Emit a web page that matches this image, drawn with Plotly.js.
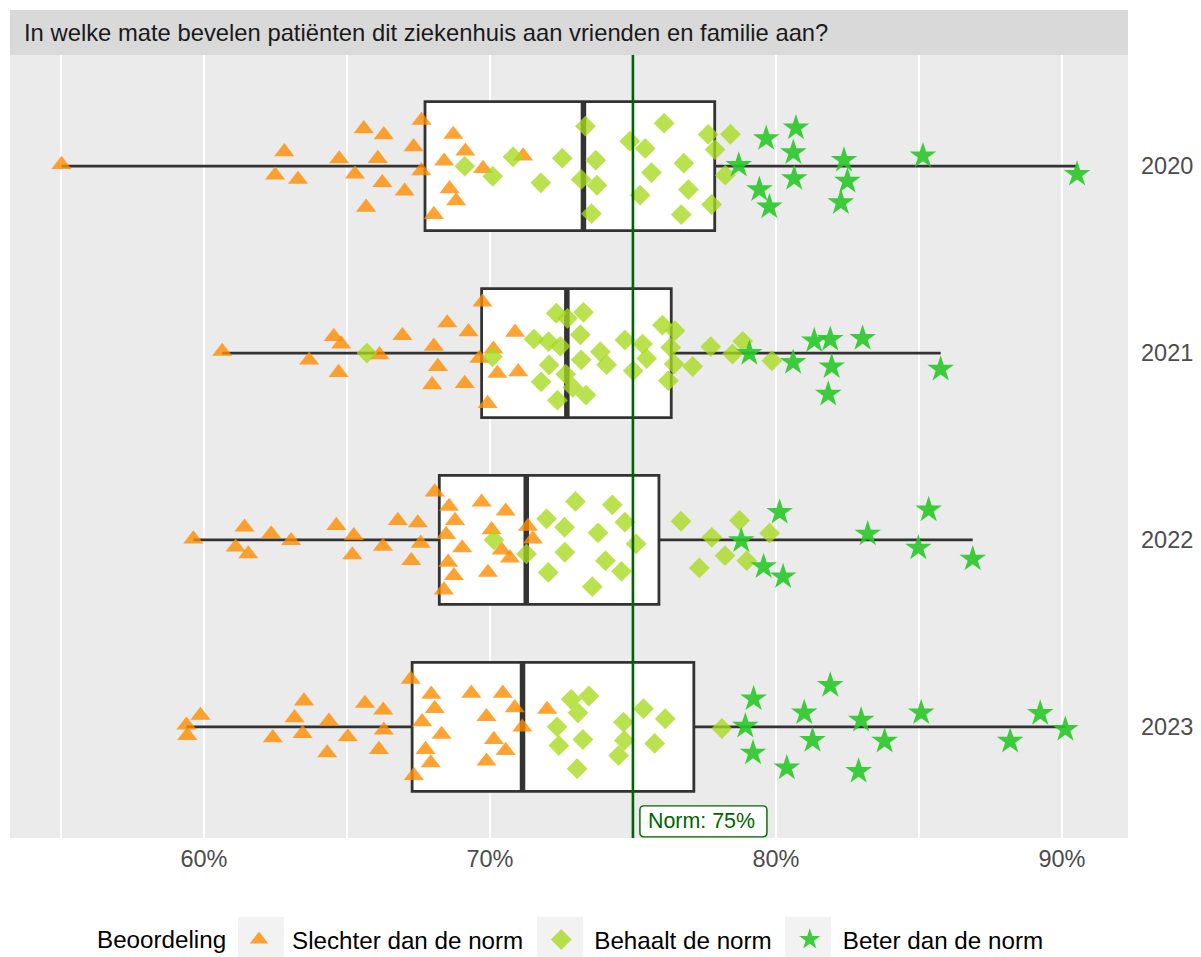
<!DOCTYPE html>
<html>
<head>
<meta charset="utf-8">
<script src="https://cdn.plot.ly/plotly-3.0.1.min.js"></script>
<style>
  html, body { margin: 0; padding: 0; background: #ffffff; }
  #chart { width: 1201px; height: 957px; }
</style>
</head>
<body>
<div id="chart"></div>
<script>
// Aanbevelingsscores per ziekenhuis (%), per jaar en beoordeling.
// Elke score heeft een kleine verticale spreiding (jitter) binnen de rij van het jaar.
const years = [2020, 2021, 2022, 2023];
const yearLabels = ['2020', '2021', '2022', '2023'];
const norm = 75;

// Boxplot-kenmerken per jaar
const q1 = [67.73, 69.71, 68.23, 67.28];
const medians = [73.27, 72.69, 71.27, 71.14];
const q3 = [77.86, 76.34, 75.91, 77.13];
const lowerFence = [55.02, 60.64, 59.63, 59.39];
const upperFence = [90.53, 85.76, 86.88, 90.12];

const xTickVals = [60, 70, 80, 90];
const xTickText = ['60%', '70%', '80%', '90%'];

const legendTitle = 'Beoordeling';
const categories = ['Slechter dan de norm', 'Behaalt de norm', 'Beter dan de norm'];

// Slechter dan de norm
const slechter2020 = [55.02, 62.81, 62.49, 63.29, 64.73, 65.59, 66.29, 66.08, 65.28, 66.24, 65.67, 67.02, 67.61, 67.33, 67.60, 68.72, 69.14, 68.40, 69.76, 68.59, 68.82, 68.04, 71.16];
const slechter2020Jit = [-0.009, -0.077, 0.048, 0.071, -0.039, -0.200, -0.168, -0.041, 0.043, 0.088, 0.220, 0.134, -0.245, -0.104, 0.025, -0.170, -0.080, -0.027, 0.013, 0.121, 0.186, 0.259, -0.054];
const slechter2021 = [60.64, 63.68, 64.54, 64.80, 64.71, 66.14, 66.94, 68.51, 69.25, 68.04, 68.18, 67.98, 69.12, 69.74, 70.12, 69.63, 70.26, 70.99, 70.88, 69.92];
const slechter2021Jit = [-0.009, 0.038, -0.088, -0.048, 0.104, 0.009, -0.093, -0.161, -0.114, -0.036, 0.072, 0.170, 0.163, -0.272, -0.021, 0.029, 0.109, 0.100, -0.111, 0.270];
const slechter2022 = [59.63, 61.42, 61.11, 61.55, 62.35, 63.05, 64.63, 65.24, 65.19, 66.26, 66.78, 67.48, 67.58, 67.25, 68.07, 68.57, 68.78, 68.47, 69.03, 68.54, 68.74, 68.39, 69.71, 70.55, 70.06, 70.41, 70.70, 69.93, 71.33, 71.50];
const slechter2022Jit = [-0.005, -0.068, 0.039, 0.075, -0.032, 0.004, -0.077, -0.023, 0.080, 0.034, -0.104, -0.091, 0.018, 0.111, -0.256, -0.179, -0.104, -0.029, 0.043, 0.120, 0.191, 0.268, -0.202, -0.154, -0.054, 0.054, 0.097, 0.174, -0.072, -0.005];
const slechter2023 = [59.39, 59.42, 59.88, 62.41, 63.50, 63.17, 63.45, 64.37, 64.31, 65.03, 65.63, 66.27, 66.29, 66.12, 67.23, 67.95, 68.07, 67.63, 68.31, 67.75, 67.93, 67.34, 69.35, 70.45, 69.88, 70.87, 70.14, 70.55, 69.88, 71.13, 72.00];
const slechter2023Jit = [-0.009, 0.047, -0.061, 0.059, -0.138, -0.048, 0.036, -0.030, 0.140, 0.054, -0.125, -0.089, 0.018, 0.122, -0.254, -0.174, -0.098, -0.027, 0.041, 0.122, 0.193, 0.261, -0.179, -0.179, -0.054, -0.102, 0.068, 0.127, 0.184, 0.002, -0.093];

// Behaalt de norm
const behaalt2020 = [69.12, 70.10, 70.81, 72.53, 71.78, 73.34, 73.70, 73.19, 73.74, 73.55, 74.89, 75.43, 76.09, 75.65, 75.25, 76.78, 76.94, 76.69, 77.63, 77.87, 78.41, 78.23, 77.75];
const behaalt2020Jit = [0.000, 0.054, -0.050, -0.043, 0.089, -0.214, -0.032, 0.071, 0.102, 0.254, -0.134, -0.095, -0.230, 0.034, 0.155, -0.016, 0.125, 0.259, -0.170, -0.089, -0.171, 0.048, 0.205];
const behaalt2021 = [65.70, 70.09, 71.54, 72.05, 72.46, 72.32, 72.71, 73.27, 73.16, 72.07, 71.79, 72.65, 72.90, 72.36, 73.36, 73.19, 73.86, 74.08, 74.72, 75.34, 75.48, 75.01, 76.03, 76.47, 76.32, 76.44, 76.24, 77.09, 77.72, 78.48, 78.84, 79.86];
const behaalt2021Jit = [0.000, 0.020, -0.075, -0.061, -0.036, -0.213, -0.186, -0.218, -0.098, 0.064, 0.154, 0.113, 0.184, 0.252, 0.225, 0.036, -0.007, 0.062, -0.070, -0.048, 0.029, 0.095, -0.150, -0.120, -0.030, 0.059, 0.148, 0.072, -0.034, 0.005, -0.063, 0.041];
const behaalt2022 = [70.14, 71.28, 71.98, 72.61, 72.99, 72.62, 72.04, 73.78, 73.58, 74.04, 74.28, 74.72, 75.11, 74.60, 76.68, 77.76, 77.32, 78.22, 78.73, 78.98, 79.78];
const behaalt2022Jit = [0.000, 0.075, -0.113, -0.068, -0.206, 0.066, 0.174, -0.038, 0.250, 0.111, -0.188, -0.095, 0.021, 0.168, -0.100, -0.014, 0.150, 0.084, -0.104, 0.111, -0.036];
const behaalt2023 = [72.84, 73.46, 73.08, 72.35, 72.41, 73.25, 73.05, 74.67, 75.37, 76.13, 74.70, 75.76, 74.50, 78.11];
const behaalt2023Jit = [-0.147, -0.165, -0.075, 0.000, 0.100, 0.068, 0.224, -0.025, -0.097, -0.043, 0.073, 0.089, 0.154, 0.009];

// Beter dan de norm
const beter2020 = [78.70, 79.66, 80.70, 80.61, 80.64, 79.42, 79.77, 82.38, 82.50, 82.27, 85.14, 90.53];
const beter2020Jit = [-0.005, -0.148, -0.205, -0.073, 0.066, 0.125, 0.218, -0.032, 0.080, 0.195, -0.055, 0.043];
const beter2021 = [79.07, 80.60, 81.34, 81.90, 83.03, 81.95, 81.83, 85.76];
const beter2021Jit = [0.002, 0.050, -0.066, -0.073, -0.079, 0.073, 0.220, 0.086];
const beter2022 = [78.79, 80.13, 79.57, 80.25, 83.21, 85.34, 84.98, 86.88];
const beter2022Jit = [0.004, -0.148, 0.143, 0.197, -0.032, -0.161, 0.043, 0.102];
const beter2023 = [78.93, 79.22, 79.20, 80.38, 80.99, 81.28, 81.90, 82.98, 82.89, 83.80, 85.08, 88.19, 89.24, 90.12];
const beter2023Jit = [-0.004, -0.150, 0.140, 0.220, -0.075, 0.073, -0.222, -0.036, 0.238, 0.077, -0.075, 0.077, -0.072, 0.014];

// ---------- opbouw ----------
const FONT = '"Liberation Sans", Arial, Helvetica, sans-serif';
const BOX_HALF = 0.345;

function gather(valueSets, jitterSets) {
  const x = [], y = [];
  valueSets.forEach((vals, i) => {
    vals.forEach((v, k) => {
      x.push(v);
      y.push(years[i] + jitterSets[i][k]);
    });
  });
  return { x, y };
}

const groups = [
  gather([slechter2020, slechter2021, slechter2022, slechter2023],
         [slechter2020Jit, slechter2021Jit, slechter2022Jit, slechter2023Jit]),
  gather([behaalt2020, behaalt2021, behaalt2022, behaalt2023],
         [behaalt2020Jit, behaalt2021Jit, behaalt2022Jit, behaalt2023Jit]),
  gather([beter2020, beter2021, beter2022, beter2023],
         [beter2020Jit, beter2021Jit, beter2022Jit, beter2023Jit])
];

const markerStyles = [
  { symbol: 'triangle-up', size: 17.5, color: 'rgba(255,140,0,0.8)' },
  { symbol: 'diamond', size: 16, color: 'rgba(166,218,30,0.78)' },
  { symbol: 'star', size: 20, color: 'rgba(40,200,40,0.9)' }
];

const boxTrace = {
  type: 'box',
  orientation: 'h',
  y: years,
  q1: q1,
  median: medians,
  q3: q3,
  lowerfence: lowerFence,
  upperfence: upperFence,
  width: 2 * BOX_HALF,
  whiskerwidth: 0,
  fillcolor: '#ffffff',
  line: { color: '#333333', width: 2.8 },
  boxpoints: false,
  hoverinfo: 'skip',
  showlegend: false
};

// dikkere mediaanlijn binnen elke box
const medX = [], medY = [];
medians.forEach((m, i) => {
  medX.push(m, m, null);
  medY.push(years[i] - BOX_HALF, years[i] + BOX_HALF, null);
});
const medianTrace = {
  type: 'scatter', mode: 'lines', x: medX, y: medY,
  line: { color: '#333333', width: 5.5 },
  hoverinfo: 'skip', showlegend: false
};

const pointTraces = groups.map((g, i) => ({
  type: 'scatter',
  mode: 'markers',
  name: categories[i],
  x: g.x,
  y: g.y,
  marker: {
    symbol: markerStyles[i].symbol,
    size: markerStyles[i].size,
    color: markerStyles[i].color,
    line: { width: 0 }
  }
}));

// legendasleutels (grijze vlakken), in papiercoördinaten
const keyCenters = [0.2245, 0.492, 0.7138];
const keyShapes = keyCenters.map(c => ({
  type: 'rect', xref: 'paper', yref: 'paper',
  x0: c - 0.0206, x1: c + 0.0206, y0: -0.1596, y1: -0.1009,
  fillcolor: '#F2F2F2', line: { width: 0 }, layer: 'below'
}));

// label bij de normlijn: afgeronde rechthoek in pixels, verankerd aan de norm
const labelBox = {
  type: 'path', xref: 'x', yref: 'y',
  xsizemode: 'pixel', ysizemode: 'pixel',
  xanchor: norm, yanchor: 2023.506,
  path: 'M 11,-15.5 H 130 Q 134,-15.5 134,-11.5 V 11.5 Q 134,15.5 130,15.5 H 11 Q 7,15.5 7,11.5 V -11.5 Q 7,-15.5 11,-15.5 Z',
  fillcolor: '#ffffff', line: { color: '#006400', width: 1.4 }, layer: 'above'
};

const layout = {
  width: 1201,
  height: 957,
  margin: { l: 10, r: 73, t: 55, b: 119, autoexpand: false },
  paper_bgcolor: '#ffffff',
  plot_bgcolor: '#EBEBEB',
  font: { family: FONT, size: 23.5, color: '#4D4D4D' },
  showlegend: true,
  xaxis: {
    range: [53.22, 92.31],
    tickvals: xTickVals,
    ticktext: xTickText,
    showgrid: true,
    gridcolor: '#ffffff',
    gridwidth: 2.6,
    minor: { dtick: 5, tick0: 55, showgrid: true, gridcolor: '#ffffff', gridwidth: 1.3 },
    zeroline: false,
    showline: false,
    ticks: '',
    ticklabelstandoff: 4,
    tickfont: { family: FONT, size: 23.5, color: '#4D4D4D' },
    fixedrange: true
  },
  yaxis: {
    range: [2023.595, 2019.405],
    tickvals: years,
    ticktext: yearLabels,
    side: 'right',
    showgrid: false,
    zeroline: false,
    showline: false,
    ticks: '',
    ticklabelstandoff: 12,
    tickfont: { family: FONT, size: 23.5, color: '#4D4D4D' },
    fixedrange: true
  },
  legend: {
    orientation: 'h',
    x: 0.1932,
    xanchor: 'left',
    y: -0.130,
    yanchor: 'middle',
    font: { family: FONT, size: 24.2, color: '#000000' },
    bgcolor: 'rgba(0,0,0,0)',
    itemwidth: 56,
    traceorder: 'normal'
  },
  shapes: [
    {
      type: 'rect', xref: 'paper', yref: 'paper',
      x0: 0, x1: 1, y0: 1, y1: 1 + 45 / 783,
      fillcolor: '#D9D9D9', line: { width: 0 }
    },
    {
      type: 'line', xref: 'x', yref: 'paper',
      x0: norm, x1: norm, y0: 0, y1: 1,
      line: { color: '#006400', width: 2.6 }, layer: 'above'
    },
    labelBox
  ].concat(keyShapes),
  annotations: [
    {
      xref: 'paper', yref: 'paper',
      x: 12 / 1118, y: 1 + 22.5 / 783,
      xanchor: 'left', yanchor: 'middle',
      text: 'In welke mate bevelen patiënten dit ziekenhuis aan vrienden en familie aan?',
      showarrow: false,
      font: { family: FONT, size: 23.8, color: '#1A1A1A' }
    },
    {
      xref: 'x', yref: 'y',
      x: norm, y: 2023.506,
      xanchor: 'left', yanchor: 'middle', xshift: 13,
      text: 'Norm: ' + norm + '%',
      showarrow: false,
      font: { family: FONT, size: 21.4, color: '#006400' }
    },
    {
      xref: 'paper', yref: 'paper',
      x: 85 / 1118, y: -0.130,
      xanchor: 'left', yanchor: 'middle',
      text: legendTitle,
      showarrow: false,
      font: { family: FONT, size: 24.2, color: '#000000' }
    }
  ]
};

Plotly.newPlot('chart', [boxTrace, medianTrace].concat(pointTraces), layout, { staticPlot: true, displayModeBar: false });
</script>
</body>
</html>
